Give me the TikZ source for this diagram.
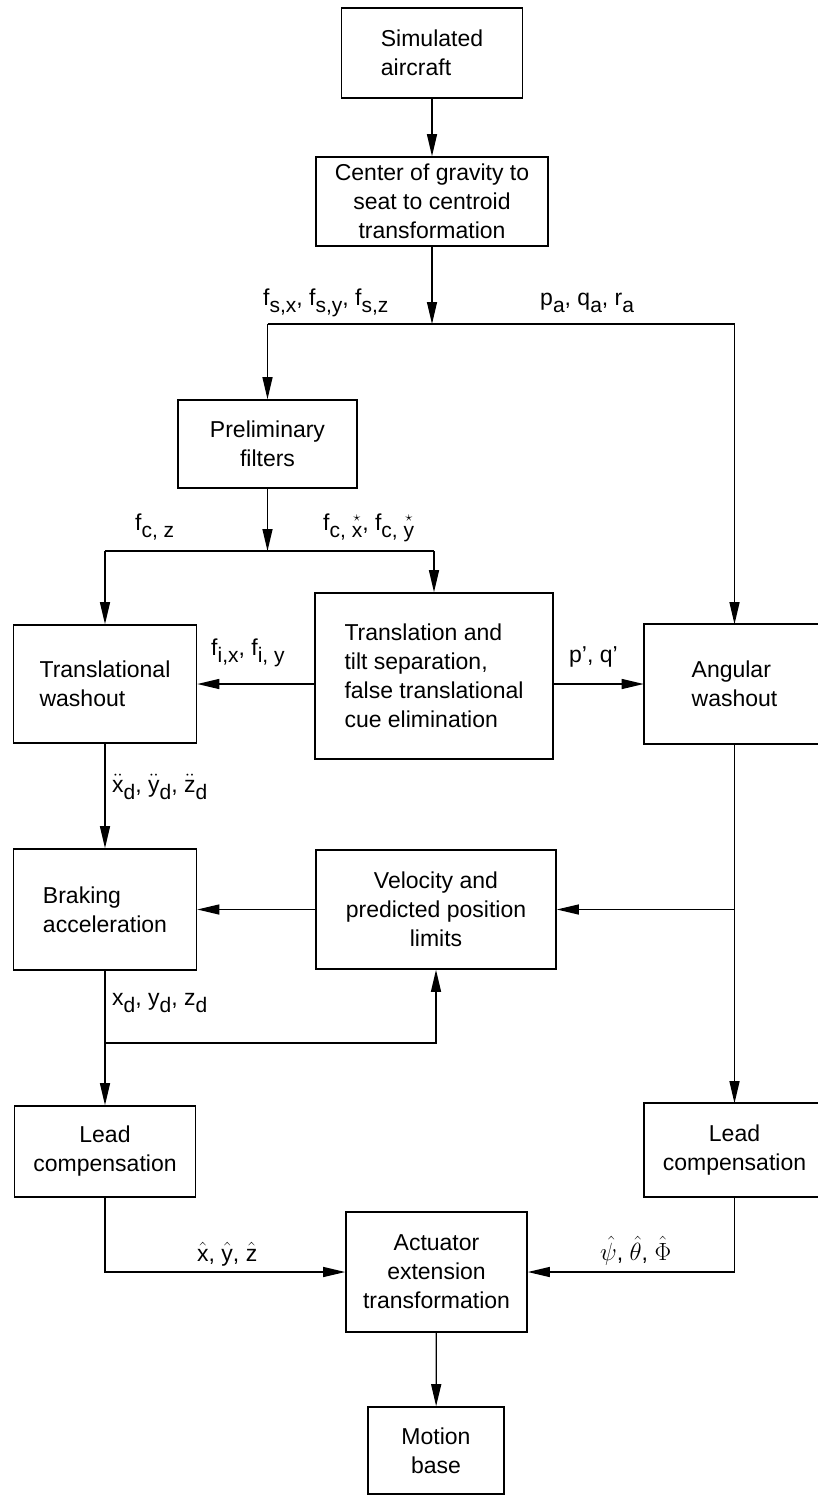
\documentclass[tikz,border=0pt]{standalone}
\usepackage{amsmath}
\usepackage{fontspec}
\setmainfont{Liberation Sans}
\usetikzlibrary{arrows.meta,positioning}
\newcommand{\fsub}[2]{#1\raisebox{-7pt}{\fontsize{21}{21}\selectfont #2}}
\newcommand{\starx}[1]{\ooalign{#1\cr\hidewidth\raisebox{0.72em}{\fontsize{15}{15}\selectfont$\star$}\hidewidth\cr}}
\tikzset{
  blk/.style={draw,line width=1.6pt,font=\fontsize{23}{29}\selectfont,align=center,inner sep=0pt},
  opn/.style={blk,draw=none},
  edge3/.style={line width=1.6pt},
  ar/.style={-{Triangle[length=22pt,width=10pt]},line width=1.3pt},
  ln/.style={line width=1.3pt},
  lbl/.style={font=\fontsize{23}{29}\selectfont,inner sep=0pt,anchor=base west}
}

\begin{document}
\begin{tikzpicture}[x=1pt,y=-1pt]
\useasboundingbox (0,0) rectangle (818,1498);

\node[blk,align=left,minimum width=181pt,minimum height=90pt] (sim) at (432,53) {Simulated\\aircraft};
\node[blk,minimum width=232pt,minimum height=89pt] (cg) at (432,201.5) {Center of gravity to\\seat to centroid\\transformation};
\node[blk,minimum width=179pt,minimum height=88pt] (pre) at (267.5,444) {Preliminary\\filters};
\node[blk,align=left,minimum width=183pt,minimum height=118pt] (tw) at (105,684) {Translational\\washout};
\node[blk,align=left,minimum width=238pt,minimum height=166pt] (ts) at (434,676) {Translation and\\tilt separation,\\false translational\\cue elimination};
\node[opn,align=left,minimum width=180pt,minimum height=118pt] (aw) at (734.5,684) {Angular\\washout};
\node[blk,align=left,minimum width=183pt,minimum height=121pt] (br) at (105,909.5) {Braking\\acceleration};
\node[blk,minimum width=240pt,minimum height=119pt] (vl) at (436,909.5) {Velocity and\\predicted position\\limits};
\node[blk,minimum width=181pt,minimum height=91pt] (lcl) at (105,1151.5) {Lead\\compensation};
\node[opn,minimum width=180pt,minimum height=92pt] (lcr) at (734.5,1150) {Lead\\compensation};
\node[blk,minimum width=181pt,minimum height=120pt] (act) at (436.5,1272) {Actuator\\extension\\transformation};
\node[blk,minimum width=136pt,minimum height=87pt] (mb) at (436,1450.5) {Motion\\base};

% right-hand boxes run off the page edge
\draw[edge3] (aw.north east) -- (aw.north west) -- (aw.south west) -- (aw.south east);
\draw[edge3] (lcr.north east) -- (lcr.north west) -- (lcr.south west) -- (lcr.south east);

\coordinate (s1) at (432,324);
\coordinate (s1l) at (pre.north |- s1);
\coordinate (s1r) at (aw.north |- s1);
\coordinate (s2) at (267.5,551);
\coordinate (s2l) at (tw.north |- s2);
\coordinate (s2r) at (ts.north |- s2);
\coordinate (j1) at (aw.south |- vl);
\coordinate (j2) at (105,1043);

\draw[ar] (sim) -- (cg);
\draw[ar] (cg) -- (s1);
\draw[ln] (s1l) -- (s1r);
\draw[ar] (s1l) -- (pre); \draw[ar] (s1r) -- (aw.north);
\draw[ar] (pre) -- (s2);
\draw[ln] (s2l) -- (s2r);
\draw[ar] (s2l) -- (tw); \draw[ar] (s2r) -- (ts);
\draw[ar] (ts.west |- tw) -- (tw); \draw[ar] (ts.east |- aw) -- (aw.west);
\draw[ar] (tw) -- (br);
\draw[ar] (aw.south) -- (lcr.north);
\draw[ar] (j1) -- (vl);
\draw[ar] (vl) -- (br);
\draw[ar] (br) -- (lcl);
\draw[ar] (j2) -| (vl);
\draw[ar] (lcl) |- (act); \draw[ar] (lcr.south) |- (act);
\draw[ar] (act) -- (mb);

\node[lbl] (lfs) at (263,305) {\fsub{f}{s,x}, \fsub{f}{s,y}, \fsub{f}{s,z}};
\node[lbl] (lpa) at (540,305) {\fsub{p}{a}, \fsub{q}{a}, \fsub{r}{a}};
\node[lbl] (lfcz) at (135,530) {\fsub{f}{c, z}};
\node[lbl] (lfcxy) at (323,530) {\fsub{f}{c, \starx{x}}, \fsub{f}{c, \starx{y}}};
\node[lbl] (lfi) at (211,655) {\fsub{f}{i,x}, \fsub{f}{i, y}};
\node[lbl] (lpq) at (569,662) {p', q'};
\node[lbl] (ldd) at (112,792) {\fsub{$\ddot{\mathrm{x}}$}{d}, \fsub{$\ddot{\mathrm{y}}$}{d}, \fsub{$\ddot{\mathrm{z}}$}{d}};
\node[lbl] (lxd) at (112,1005) {\fsub{x}{d}, \fsub{y}{d}, \fsub{z}{d}};
\node[lbl] (lhat) at (197,1261) {$\hat{\mathrm{x}}$, $\hat{\mathrm{y}}$, $\hat{\mathrm{z}}$};
\node[lbl] (lang) at (600,1260) {$\hat{\psi}$, $\hat{\theta}$, $\hat{\Phi}$};
\end{tikzpicture}
\end{document}
